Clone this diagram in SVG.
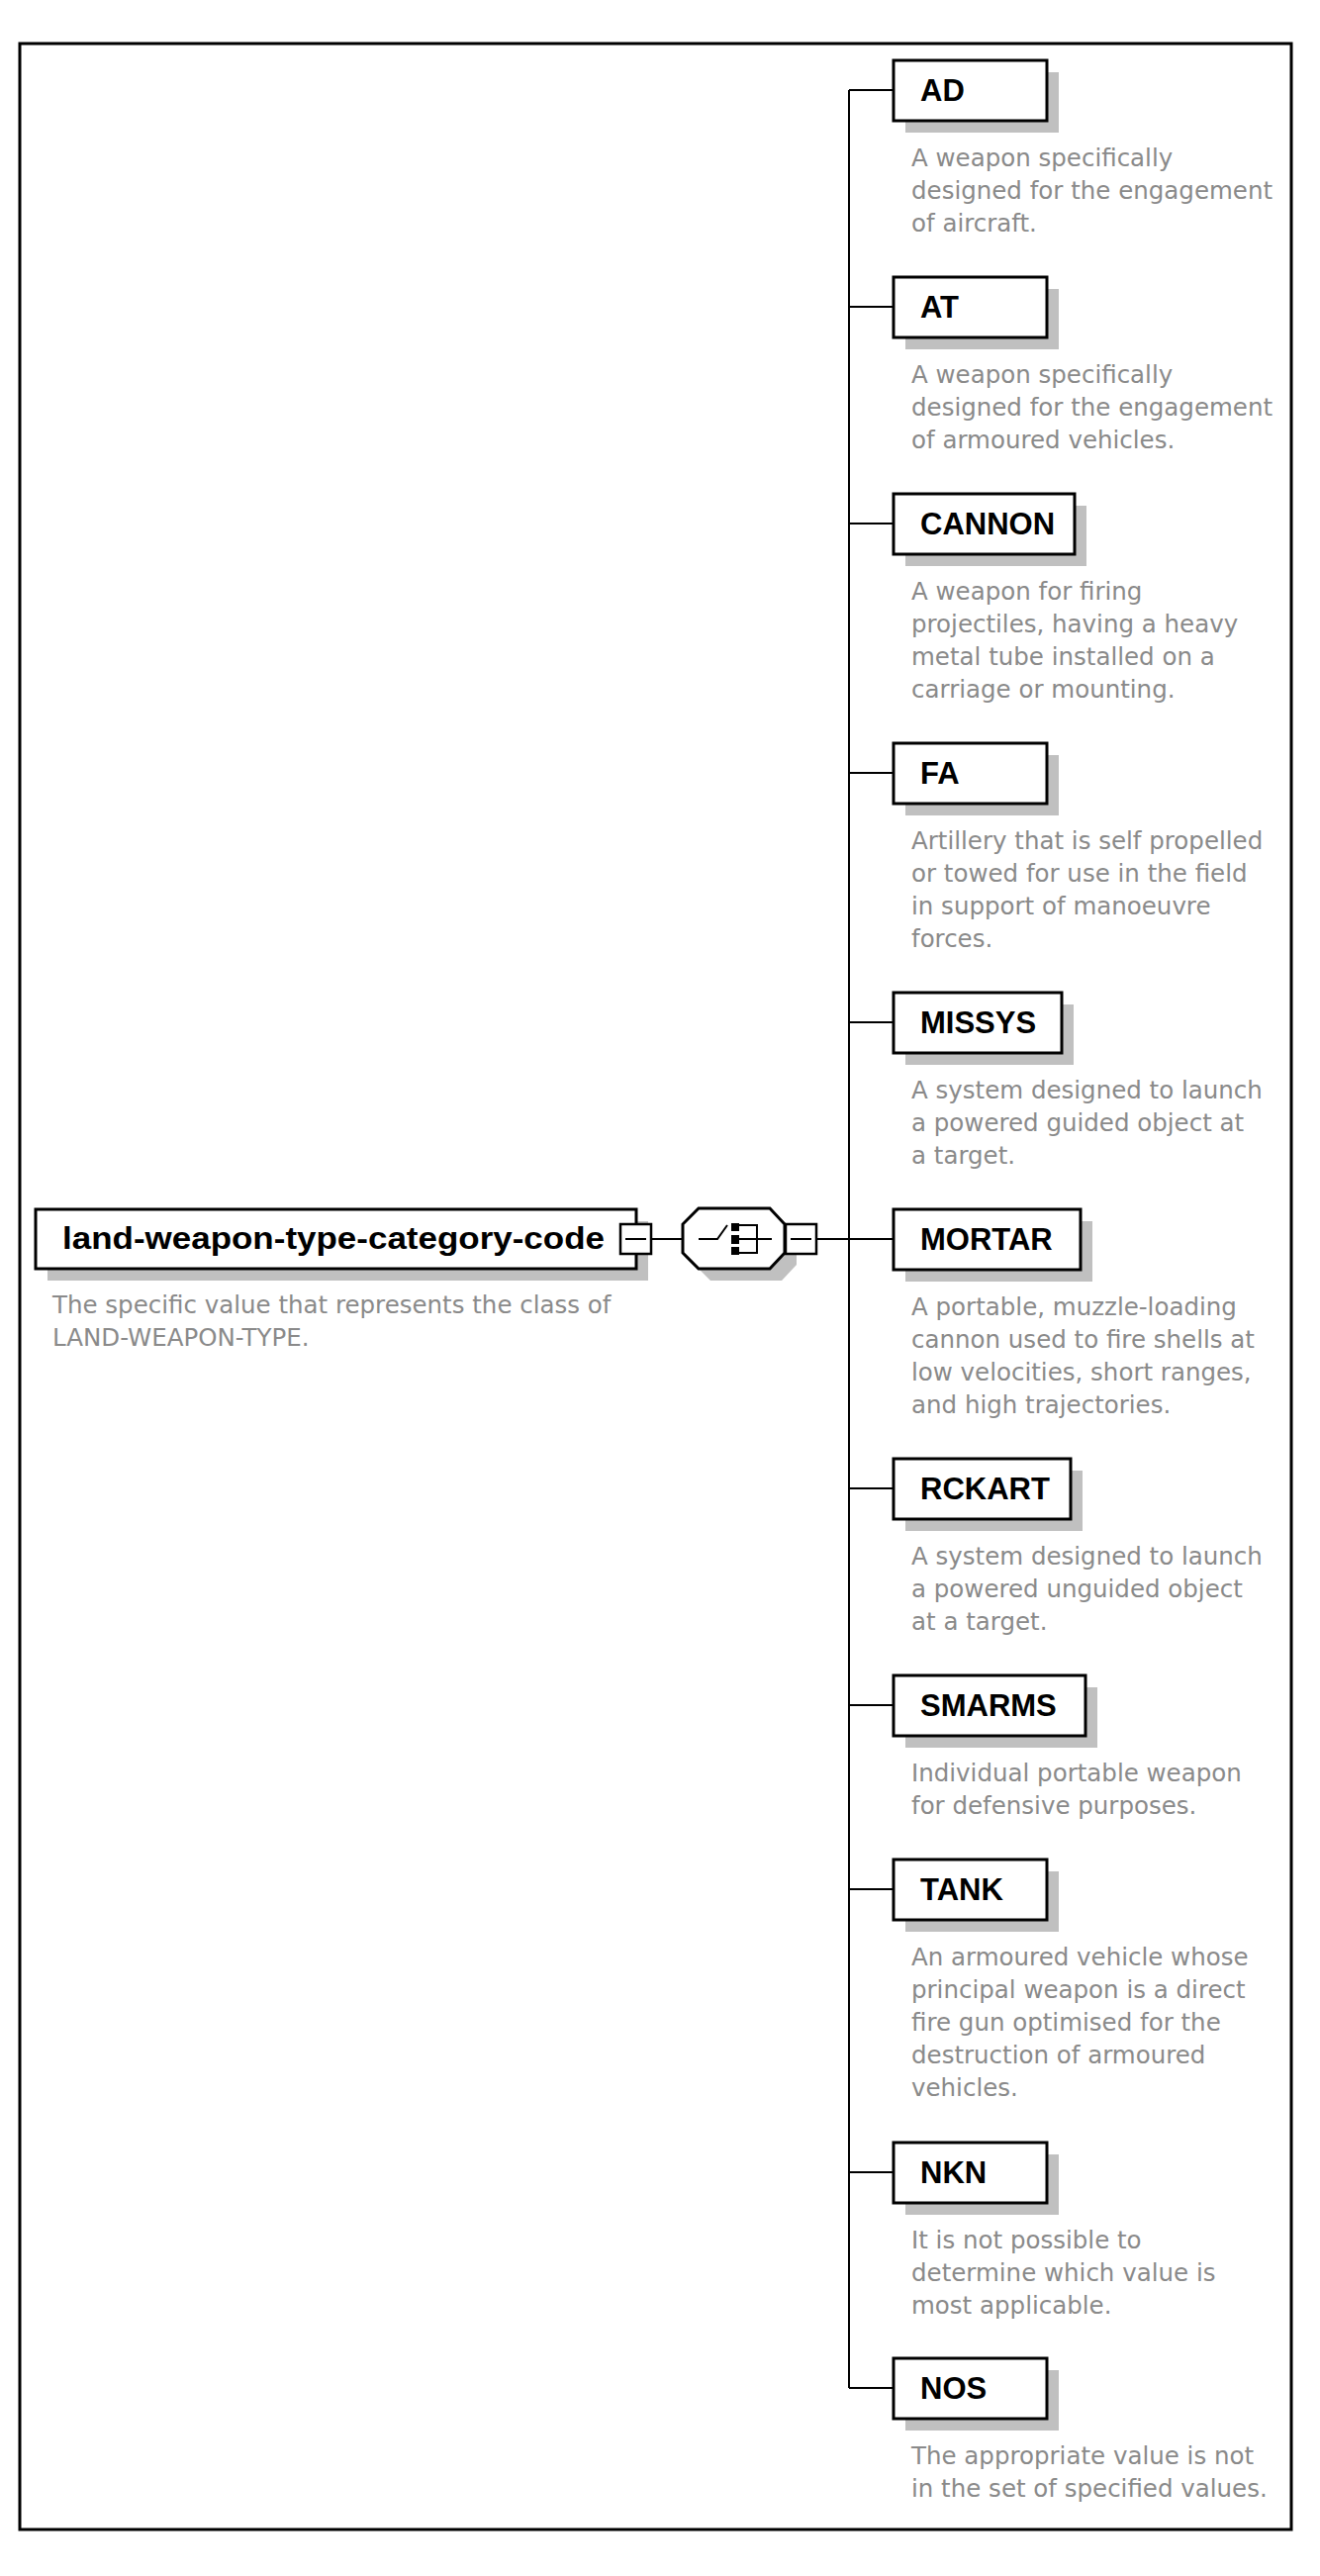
<svg xmlns="http://www.w3.org/2000/svg" width="1334" height="2603" viewBox="0 0 1334 2603">
<style>
.frame{fill:none;stroke:#000;stroke-width:3}
.box{fill:#fff;stroke:#000;stroke-width:3}
.shadow{fill:#c0c0c0}
.sq{fill:#fff;stroke:#000;stroke-width:2.5}
.ln{fill:none;stroke:#000;stroke-width:2}
.lbl{font-family:"Liberation Sans",Arial,sans-serif;font-weight:bold;font-size:31px;fill:#000}
.root{font-family:"Liberation Sans",Arial,sans-serif;font-weight:bold;font-size:32px;fill:#000}
.desc{font-family:"DejaVu Sans",Verdana,sans-serif;font-size:24.5px;fill:#8a8a8a}
</style>
<rect width="1334" height="2603" fill="#fff"/>
<rect class="frame" x="20" y="44" width="1285" height="2512"/>

<g id="connectors">
<line class="ln" x1="858" y1="91" x2="858" y2="2413"/>
<path class="ln" d="M858 91H903M858 310H903M858 529H903M858 781H903M858 1033H903M858 1252H903M858 1504H903M858 1723H903M858 1909H903M858 2195H903M858 2413H903"/>
<path class="ln" d="M658 1252H690M825 1252H858"/>
</g>

<g id="root">
<rect class="shadow" x="48" y="1234" width="607" height="60"/>
<rect class="box" x="36" y="1222" width="607" height="60"/>
<text class="root" x="63" y="1262" textLength="548" lengthAdjust="spacingAndGlyphs">land-weapon-type-category-code</text>
<rect class="sq" x="627" y="1237" width="31" height="30"/>
<line class="ln" x1="632" y1="1252" x2="653" y2="1252"/>
<text class="desc" x="53" y="1327">The specific value that represents the class of</text>
<text class="desc" x="53" y="1360">LAND-WEAPON-TYPE.</text>
</g>

<g id="choice">
<polygon class="shadow" points="718,1233 790,1233 805,1249 805,1278 790,1294 718,1294 702,1278 702,1249"/>
<polygon class="box" points="706,1221 778,1221 793,1237 793,1266 778,1282 706,1282 690,1266 690,1237"/>
<path class="ln" d="M706 1252H725L735 1238"/>
<rect x="739" y="1236" width="8" height="8" fill="#000"/>
<rect x="739" y="1248" width="8" height="9" fill="#000"/>
<rect x="739" y="1260" width="8" height="8" fill="#000"/>
<path class="ln" d="M747 1238H765V1266H747M747 1252H780"/>
<rect class="sq" x="794" y="1237" width="31" height="30"/>
<line class="ln" x1="799" y1="1252" x2="820" y2="1252"/>
</g>

<g id="AD">
<rect class="shadow" x="915" y="73" width="155" height="61"/>
<rect class="box" x="903" y="61" width="155" height="61"/>
<text class="lbl" x="930" y="102">AD</text>
<text class="desc" x="921" y="168">A weapon specifically</text>
<text class="desc" x="921" y="201">designed for the engagement</text>
<text class="desc" x="921" y="234">of aircraft.</text>
</g>

<g id="AT">
<rect class="shadow" x="915" y="292" width="155" height="61"/>
<rect class="box" x="903" y="280" width="155" height="61"/>
<text class="lbl" x="930" y="321">AT</text>
<text class="desc" x="921" y="387">A weapon specifically</text>
<text class="desc" x="921" y="420">designed for the engagement</text>
<text class="desc" x="921" y="453">of armoured vehicles.</text>
</g>

<g id="CANNON">
<rect class="shadow" x="915" y="511" width="183" height="61"/>
<rect class="box" x="903" y="499" width="183" height="61"/>
<text class="lbl" x="930" y="540">CANNON</text>
<text class="desc" x="921" y="606">A weapon for firing</text>
<text class="desc" x="921" y="639">projectiles, having a heavy</text>
<text class="desc" x="921" y="672">metal tube installed on a</text>
<text class="desc" x="921" y="705">carriage or mounting.</text>
</g>

<g id="FA">
<rect class="shadow" x="915" y="763" width="155" height="61"/>
<rect class="box" x="903" y="751" width="155" height="61"/>
<text class="lbl" x="930" y="792">FA</text>
<text class="desc" x="921" y="858">Artillery that is self propelled</text>
<text class="desc" x="921" y="891">or towed for use in the field</text>
<text class="desc" x="921" y="924">in support of manoeuvre</text>
<text class="desc" x="921" y="957">forces.</text>
</g>

<g id="MISSYS">
<rect class="shadow" x="915" y="1015" width="170" height="61"/>
<rect class="box" x="903" y="1003" width="170" height="61"/>
<text class="lbl" x="930" y="1044">MISSYS</text>
<text class="desc" x="921" y="1110">A system designed to launch</text>
<text class="desc" x="921" y="1143">a powered guided object at</text>
<text class="desc" x="921" y="1176">a target.</text>
</g>

<g id="MORTAR">
<rect class="shadow" x="915" y="1234" width="189" height="61"/>
<rect class="box" x="903" y="1222" width="189" height="61"/>
<text class="lbl" x="930" y="1263">MORTAR</text>
<text class="desc" x="921" y="1329">A portable, muzzle-loading</text>
<text class="desc" x="921" y="1362">cannon used to fire shells at</text>
<text class="desc" x="921" y="1395">low velocities, short ranges,</text>
<text class="desc" x="921" y="1428">and high trajectories.</text>
</g>

<g id="RCKART">
<rect class="shadow" x="915" y="1486" width="179" height="61"/>
<rect class="box" x="903" y="1474" width="179" height="61"/>
<text class="lbl" x="930" y="1515">RCKART</text>
<text class="desc" x="921" y="1581">A system designed to launch</text>
<text class="desc" x="921" y="1614">a powered unguided object</text>
<text class="desc" x="921" y="1647">at a target.</text>
</g>

<g id="SMARMS">
<rect class="shadow" x="915" y="1705" width="194" height="61"/>
<rect class="box" x="903" y="1693" width="194" height="61"/>
<text class="lbl" x="930" y="1734">SMARMS</text>
<text class="desc" x="921" y="1800">Individual portable weapon</text>
<text class="desc" x="921" y="1833">for defensive purposes.</text>
</g>

<g id="TANK">
<rect class="shadow" x="915" y="1891" width="155" height="61"/>
<rect class="box" x="903" y="1879" width="155" height="61"/>
<text class="lbl" x="930" y="1920">TANK</text>
<text class="desc" x="921" y="1986">An armoured vehicle whose</text>
<text class="desc" x="921" y="2019">principal weapon is a direct</text>
<text class="desc" x="921" y="2052">fire gun optimised for the</text>
<text class="desc" x="921" y="2085">destruction of armoured</text>
<text class="desc" x="921" y="2118">vehicles.</text>
</g>

<g id="NKN">
<rect class="shadow" x="915" y="2177" width="155" height="61"/>
<rect class="box" x="903" y="2165" width="155" height="61"/>
<text class="lbl" x="930" y="2206">NKN</text>
<text class="desc" x="921" y="2272">It is not possible to</text>
<text class="desc" x="921" y="2305">determine which value is</text>
<text class="desc" x="921" y="2338">most applicable.</text>
</g>

<g id="NOS">
<rect class="shadow" x="915" y="2395" width="155" height="61"/>
<rect class="box" x="903" y="2383" width="155" height="61"/>
<text class="lbl" x="930" y="2424">NOS</text>
<text class="desc" x="921" y="2490">The appropriate value is not</text>
<text class="desc" x="921" y="2523">in the set of specified values.</text>
</g>
</svg>
